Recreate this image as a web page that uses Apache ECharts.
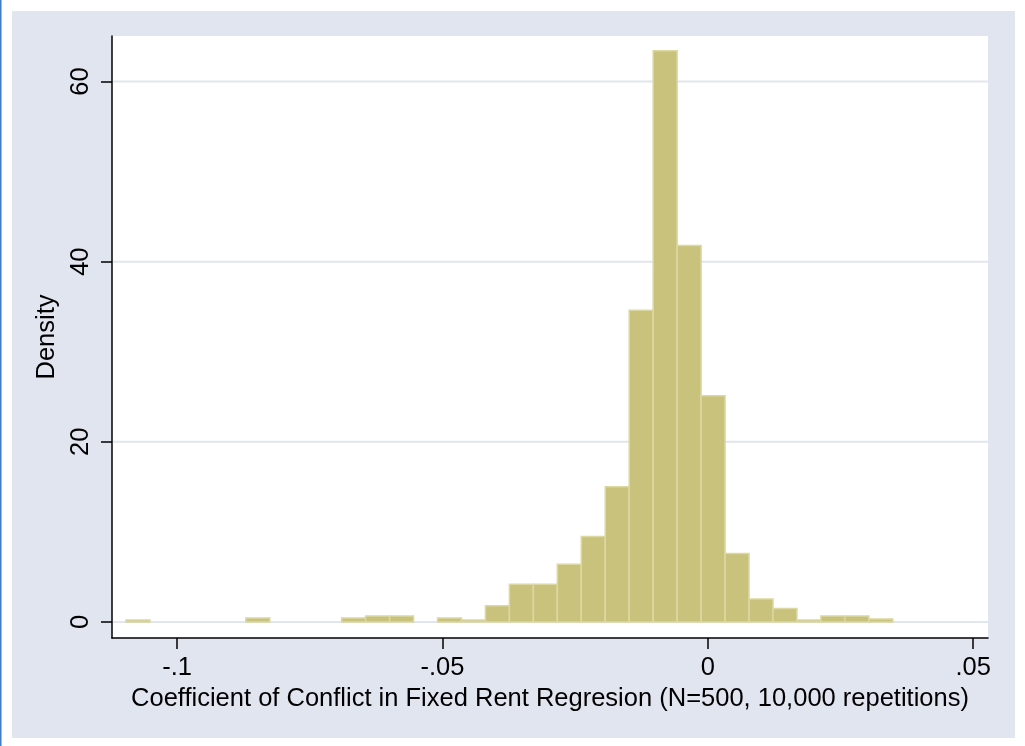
<!DOCTYPE html>
<html>
<head>
<meta charset="utf-8">
<title>Histogram</title>
<script src="https://cdn.jsdelivr.net/npm/echarts@6/dist/echarts.min.js"></script>
<style>
  html, body { margin: 0; padding: 0; background: #ffffff; }
  #chart { width: 1025px; height: 746px; }
</style>
</head>
<body>
<div id="chart"></div>
<script>
// Histogram bins: first edge and common width (coefficient units)
const binStart = -0.10962;
const binWidth = 0.004515;
// Density of each bin, left to right
const density = [
  0.22, 0, 0, 0, 0, 0.44, 0, 0, 0, 0.44,
  0.66, 0.66, 0, 0.44, 0.22, 1.8, 4.2, 4.2, 6.4, 9.5,
  15.0, 34.6, 63.4, 41.8, 25.1, 7.6, 2.55, 1.5, 0.22, 0.66,
  0.66, 0.33
];
// Axis ticks and their labels
const xTicks = [-0.1, -0.05, 0, 0.05];
const xTickLabels = ['-.1', '-.05', '0', '.05'];
const yTicks = [0, 20, 40, 60];
const yTickLabels = ['0', '20', '40', '60'];

const xTitle = 'Coefficient of Conflict in Fixed Rent Regresion (N=500, 10,000 repetitions)';
const yTitle = 'Density';

const FONT = '"Liberation Sans", Arial, sans-serif';

function lookup(values, labels, v) {
  for (let i = 0; i < values.length; i++) {
    if (Math.abs(values[i] - v) < 1e-9) return labels[i];
  }
  return '';
}

const bins = density.map((d, i) => [binStart + i * binWidth, binStart + (i + 1) * binWidth, d]);

const chart = echarts.init(document.getElementById('chart'), null, { renderer: 'canvas' });

chart.setOption({
  animation: false,
  backgroundColor: '#ffffff',
  graphic: [
    { type: 'rect', z: -10, shape: { x: 0, y: 0, width: 1.5, height: 746 }, style: { fill: '#3f7cc4' } },
    { type: 'rect', z: -10, shape: { x: 12, y: 11, width: 1003, height: 727 }, style: { fill: '#e1e5f0' } }
  ],
  grid: {
    left: 112, right: 37, top: 36, bottom: 108,
    show: true, backgroundColor: '#ffffff', borderWidth: 0
  },
  xAxis: {
    type: 'value',
    min: -0.11226,
    max: 0.0528,
    name: xTitle,
    nameLocation: 'middle',
    nameGap: 43,
    nameTextStyle: { fontFamily: FONT, fontSize: 25.5, color: '#000' },
    axisLine: { show: true, onZero: false, lineStyle: { color: '#000', width: 1.5 } },
    axisTick: { show: true, customValues: xTicks, length: 11, lineStyle: { color: '#000', width: 1.5 } },
    axisLabel: {
      customValues: xTicks,
      formatter: v => lookup(xTicks, xTickLabels, v),
      fontFamily: FONT, fontSize: 25.5, color: '#000', margin: 17
    },
    splitLine: { show: false }
  },
  yAxis: {
    type: 'value',
    min: -1.78,
    max: 65.05,
    name: yTitle,
    nameLocation: 'middle',
    nameGap: 42,
    nameRotate: 90,
    nameTextStyle: { fontFamily: FONT, fontSize: 25.5, color: '#000' },
    axisLine: { show: true, onZero: false, lineStyle: { color: '#000', width: 1.5 } },
    axisTick: { show: true, customValues: yTicks, length: 11, lineStyle: { color: '#000', width: 1.5 } },
    axisLabel: {
      customValues: yTicks,
      rotate: 90,
      formatter: v => lookup(yTicks, yTickLabels, v),
      fontFamily: FONT, fontSize: 25.5, color: '#000', margin: 18
    },
    splitLine: { show: false }
  },
  series: [
    {
      // horizontal grid lines at the y ticks
      type: 'custom',
      z: 1,
      silent: true,
      data: yTicks,
      encode: { y: 0 },
      renderItem: function (params, api) {
        const cs = params.coordSys;
        const p = api.coord([0, api.value(0)]);
        return {
          type: 'line',
          shape: { x1: cs.x + 1, y1: p[1], x2: cs.x + cs.width, y2: p[1] },
          style: { stroke: '#e1e5f0', lineWidth: 2 }
        };
      }
    },
    {
      // histogram bars
      type: 'custom',
      z: 2,
      data: bins,
      encode: { x: [0, 1], y: 2 },
      renderItem: function (params, api) {
        const d = api.value(2);
        if (!(d > 0)) return null;
        const p0 = api.coord([api.value(0), 0]);
        const p1 = api.coord([api.value(1), d]);
        return {
          type: 'rect',
          shape: { x: p0[0], y: p1[1], width: p1[0] - p0[0], height: p0[1] - p1[1] },
          style: { fill: '#c8c27c', stroke: '#dcd8a2', lineWidth: 1.5 }
        };
      }
    }
  ]
});
</script>
</body>
</html>
